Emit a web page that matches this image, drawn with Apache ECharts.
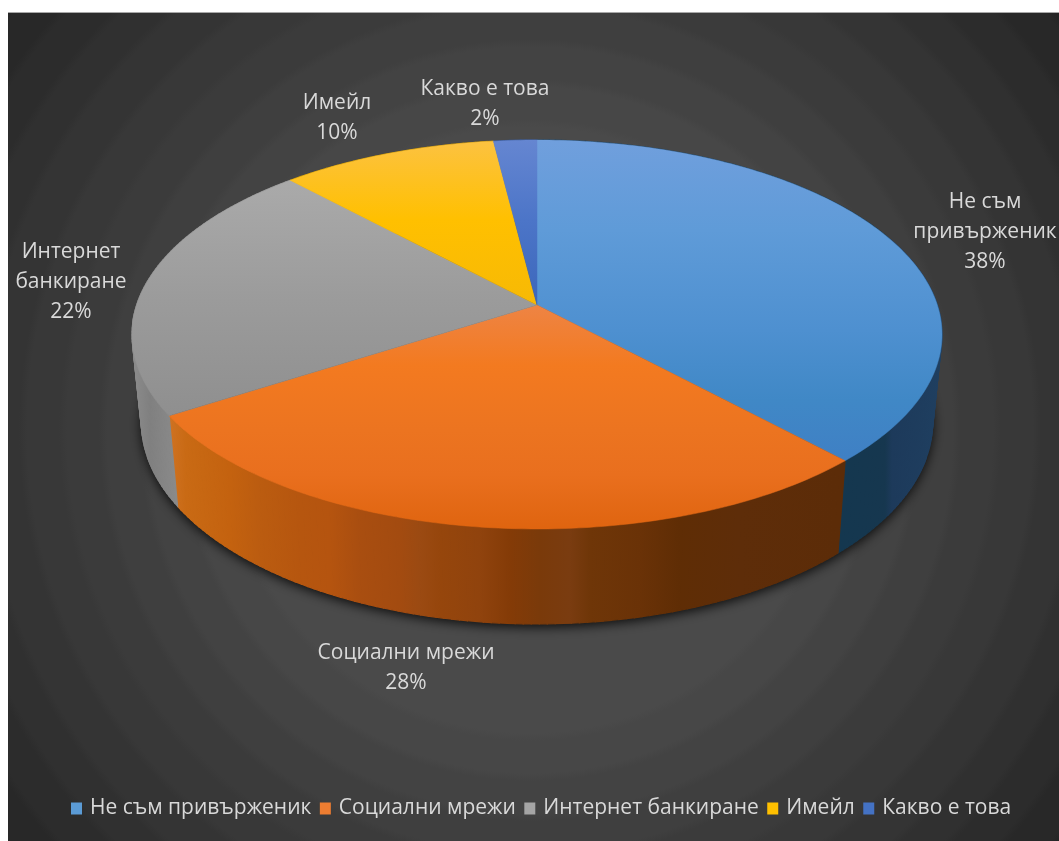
<!DOCTYPE html>
<html>
<head>
<meta charset="utf-8">
<title>Пай диаграма</title>
<style>
  html, body { margin: 0; padding: 0; background: #ffffff; }
  #chart { width: 1059px; height: 841px; }
</style>
<script src="https://cdn.jsdelivr.net/npm/echarts@6/dist/echarts.min.js"></script>
</head>
<body>
<div id="chart"></div>
<script>
// Chart data
const categories = ['Не съм привърженик', 'Социални мрежи', 'Интернет банкиране', 'Имейл', 'Какво е това'];
const shares = [38, 28, 22, 10, 2];

// Slice label wording and where each label block sits
const labelLines = [['Не съм', 'привърженик'], ['Социални мрежи'], ['Интернет', 'банкиране'], ['Имейл'], ['Какво е това']];
const labelAnchors = [[985, 232], [406, 668], [71, 282], [337, 118], [485, 104]];

// Colours
const swatchColors = ['#5b9bd5', '#ed7d31', '#a5a5a5', '#ffc000', '#4472c4'];
const topStops = [
  [[140, '#709fdd'], [230, '#5f9bd8'], [330, '#4e90d0'], [400, '#4088c6'], [465, '#3f7fc4']],
  [[305, '#ee8444'], [365, '#f37a20'], [430, '#ec7420'], [475, '#e96f1e'], [530, '#df640f']],
  [[180, '#aaaaaa'], [300, '#9b9b9b'], [415, '#8f8f8f']],
  [[142, '#fcc240'], [220, '#ffc000'], [305, '#f7b905']],
  [[140, '#6586d1'], [220, '#4c75c8'], [305, '#3c67bb']]
];
const sideStops = [
  [[838, '#14374f'], [885, '#16374f'], [892, '#1d3a5b'], [942, '#1f3f60']],
  [[170, '#cf7222'], [186, '#c96a14'], [230, '#c4620f'], [260, '#bb5c10'], [300, '#b6560f'],
   [330, '#b5540f'], [360, '#a94e10'], [400, '#a34b10'], [420, '#9b4a12'], [440, '#96460c'],
   [480, '#90430d'], [510, '#843b07'], [540, '#7a3a0a'], [570, '#7a3c10'], [590, '#6f3608'],
   [640, '#6a3207'], [680, '#5f2d05'], [740, '#5e2d09'], [838, '#5c2c08']],
  [[132, '#8c8c8c'], [150, '#808080'], [176, '#8a8a8a']],
  [[290, '#b08500'], [495, '#a07800']],
  [[495, '#2f4f88'], [537, '#2f4f88']]
];
const backgroundBands = [
  [307, '#4a4a4a'], [347, '#474747'], [387, '#434343'], [427, '#3f3f3f'], [467, '#3b3b3b'],
  [507, '#383838'], [550, '#343434'], [587, '#303030'], [627, '#2c2c2c'], [667, '#282828'], [720, '#242424']
];

// Perspective model of the disc, in canvas pixels
const APEX_X = 537, APEX_Y = 305, RADIUS_X = 400.3, RADIUS_Y = 190, TILT = 0.1517;
const BASE_Y = 391, BASE_SCALE_X = 0.977, BASE_SCALE_Y = 1.04;
const BAND_SOFTNESS = 4;
const TEXT_COLOR = '#d9d9d9';
const FONT_FAMILY = '"Open Sans", "Noto Sans", sans-serif';

const total = shares.reduce((a, b) => a + b, 0);
const startFractions = shares.map((_, i) => shares.slice(0, i).reduce((a, b) => a + b, 0) / total);
const endFractions = shares.map((_, i) => shares.slice(0, i + 1).reduce((a, b) => a + b, 0) / total);

function rimPoint(fraction, isBase) {
  const theta = fraction * 2 * Math.PI;
  const u = Math.sin(theta), v = -Math.cos(theta);
  const w = 1 - TILT * v;
  const x = RADIUS_X * u / w, y = RADIUS_Y * v / w;
  return isBase
    ? [APEX_X + x * BASE_SCALE_X, BASE_Y + y * BASE_SCALE_Y]
    : [APEX_X + x, APEX_Y + y];
}

function rimArc(from, to, isBase) {
  const steps = Math.max(2, Math.ceil((to - from) * 360));
  const pts = [];
  for (let k = 0; k <= steps; k++) pts.push(rimPoint(from + (to - from) * k / steps, isBase));
  return pts;
}

function verticalFill(stops) {
  const y0 = stops[0][0], y1 = stops[stops.length - 1][0];
  return new echarts.graphic.LinearGradient(0, y0, 0, y1,
    stops.map(s => ({ offset: (s[0] - y0) / (y1 - y0), color: s[1] })), true);
}

function horizontalFill(stops) {
  const x0 = stops[0][0], x1 = stops[stops.length - 1][0];
  return new echarts.graphic.LinearGradient(x0, 0, x1, 0,
    stops.map(s => ({ offset: (s[0] - x0) / (x1 - x0), color: s[1] })), true);
}

// Concentric backdrop rings with slightly feathered edges
function bandFill() {
  const outer = backgroundBands[backgroundBands.length - 1][0];
  const stops = [];
  let inner = 0;
  backgroundBands.forEach(b => {
    stops.push({ offset: (inner + BAND_SOFTNESS) / outer, color: b[1] });
    stops.push({ offset: (b[0] - BAND_SOFTNESS) / outer, color: b[1] });
    inner = b[0];
  });
  return new echarts.graphic.RadialGradient(530, 430, outer, stops, true);
}

// Drop shadow beneath the disc
const shadowSeries = {
  type: 'custom',
  coordinateSystem: 'none',
  silent: true,
  z: 1,
  data: [total],
  renderItem: () => ({
    type: 'polygon',
    shape: { points: rimArc(0, 1, true) },
    style: { fill: '#111111', shadowColor: 'rgba(0,0,0,0.85)', shadowBlur: 12, shadowOffsetY: 3 }
  })
};

// Outer walls of every slice, built from narrow facets so the silhouette stays closed
const wallSeries = {
  type: 'custom',
  coordinateSystem: 'none',
  silent: true,
  z: 2,
  data: shares,
  renderItem: params => {
    const i = params.dataIndex;
    const top = rimArc(startFractions[i], endFractions[i], false);
    const base = rimArc(startFractions[i], endFractions[i], true);
    const fill = horizontalFill(sideStops[i]);
    const facets = [];
    for (let k = 0; k < top.length - 1; k++) {
      facets.push({
        type: 'polygon',
        shape: { points: [top[k], top[k + 1], base[k + 1], base[k]] },
        style: { fill: fill, stroke: fill, lineWidth: 1.2 }
      });
    }
    return { type: 'group', children: facets };
  }
};

// Top faces and their labels; one series per category so each gets a legend entry
const sliceSeries = categories.map((name, i) => ({
  type: 'custom',
  name: name,
  coordinateSystem: 'none',
  silent: true,
  z: 3,
  itemStyle: { color: swatchColors[i] },
  data: [shares[i]],
  renderItem: (params, api) => {
    const fill = verticalFill(topStops[i]);
    const outline = [[APEX_X, APEX_Y]].concat(rimArc(startFractions[i], endFractions[i], false));
    return {
      type: 'group',
      children: [
        { type: 'polygon', shape: { points: outline }, style: { fill: fill, stroke: fill, lineWidth: 0.5 } },
        {
          type: 'text',
          x: labelAnchors[i][0],
          y: labelAnchors[i][1],
          style: {
            text: labelLines[i].concat(api.value(0) + '%').join('\n'),
            fill: TEXT_COLOR,
            font: '21px ' + FONT_FAMILY,
            lineHeight: 30,
            align: 'center',
            verticalAlign: 'middle'
          }
        }
      ]
    };
  }
}));

const chart = echarts.init(document.getElementById('chart'), null, { renderer: 'canvas' });
chart.setOption({
  animation: false,
  backgroundColor: '#ffffff',
  graphic: [
    { type: 'rect', z: -2, silent: true, shape: { x: 8, y: 12, width: 1051, height: 829 }, style: { fill: bandFill() } },
    { type: 'rect', z: -1, silent: true, shape: { x: 8, y: 12, width: 1051, height: 1 }, style: { fill: '#a8a8a8' } }
  ],
  legend: {
    data: categories,
    left: 71,
    top: 798,
    padding: 0,
    icon: 'rect',
    itemWidth: 11,
    itemHeight: 12,
    itemGap: 8.5,
    selectedMode: false,
    textStyle: { color: TEXT_COLOR, fontFamily: FONT_FAMILY, fontSize: 21, padding: [0, 0, 0, 3] }
  },
  series: [shadowSeries, wallSeries].concat(sliceSeries)
});
</script>
</body>
</html>
